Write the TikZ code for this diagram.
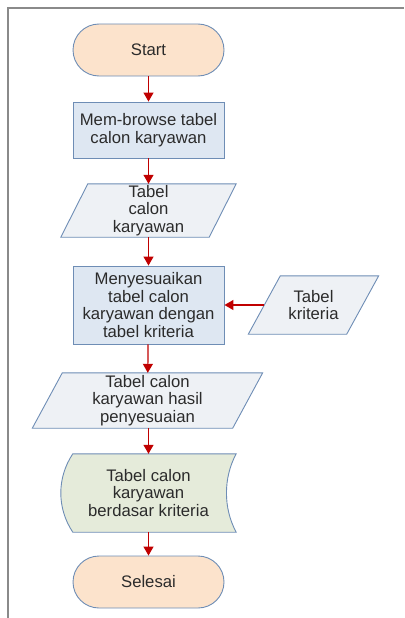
\documentclass[tikz,border=0pt]{standalone}
\usepackage{fontspec}
\setmainfont{Liberation Sans}
\usetikzlibrary{arrows.meta,calc}
\pgfdeclarelayer{background}
\pgfsetlayers{background,main}

\definecolor{termfill}{HTML}{FCE3CC}
\definecolor{procfill}{HTML}{DEE7F2}
\definecolor{iofill}{HTML}{EEF1F5}
\definecolor{storefill}{HTML}{E5EBDA}
\definecolor{edgeblue}{HTML}{6E8DB5}
\definecolor{flowred}{HTML}{C00000}
\definecolor{txtgray}{HTML}{2B2B2B}
\definecolor{framegray}{HTML}{8A8A8A}

\tikzset{
  box/.style={align=center, inner sep=0pt, text=txtgray,
    font=\fontsize{16.7}{17.5}\selectfont},
  terminal/.style={box, draw=edgeblue, line width=0.9pt, fill=termfill,
    rounded corners=26pt, minimum width=151pt, minimum height=52pt},
  process/.style={box, draw=edgeblue, line width=0.9pt, fill=procfill,
    minimum width=151pt},
  iotext/.style={box},
  ioshape/.style={draw=edgeblue, line width=0.9pt, fill=iofill},
  storeshape/.style={draw=edgeblue, line width=0.9pt, fill=storefill},
  flow/.style={draw=flowred, line width=1.2pt,
    -{Triangle[length=9pt,width=10pt]}},
  frameline/.style={draw=framegray, line width=1.8pt}
}

\begin{document}
\begin{tikzpicture}[x=1pt,y=-1pt]
\useasboundingbox (0,0) rectangle (404,618);

% page frame (top and left rules)
\draw[frameline] (8,618) -- (8,8) -- (404,8);

% nodes
\node[terminal] (start) at (148.5,50) {Start};
\node[process, minimum height=56pt] (browse) at (148.5,130)
  {Mem-browse tabel\\calon karyawan};
\node[iotext, minimum width=148pt, minimum height=53pt] (tcalon) at (148.5,210.5)
  {Tabel\\calon\\karyawan};
\node[process, minimum height=78pt] (sesuai) at (148.5,305)
  {Menyesuaikan\\tabel calon\\karyawan dengan\\tabel kriteria};
\node[iotext, minimum width=98pt, minimum height=58pt] (kriteria) at (313.5,305)
  {Tabel\\kriteria};
\node[iotext, minimum width=200pt, minimum height=55pt] (hasil) at (147.5,400.5)
  {Tabel calon\\karyawan hasil\\penyesuaian};
\node[iotext, minimum width=175pt, minimum height=78pt] (simpan) at (148.5,493)
  {Tabel calon\\karyawan\\berdasar kriteria};
\node[terminal] (selesai) at (148.5,582) {Selesai};

% data shapes drawn behind their texts
\begin{pgfonlayer}{background}
  % parallelograms (input / output data)
  \draw[ioshape] ($(tcalon.north west)+(13.5,0)$) -- ($(tcalon.north east)+(13.5,0)$)
    -- ($(tcalon.south east)+(-13.5,0)$) -- ($(tcalon.south west)+(-13.5,0)$) -- cycle;
  \draw[ioshape] ($(kriteria.north west)+(16,0)$) -- ($(kriteria.north east)+(16,0)$)
    -- ($(kriteria.south east)+(-16,0)$) -- ($(kriteria.south west)+(-16,0)$) -- cycle;
  \draw[ioshape] ($(hasil.north west)+(15,0)$) -- ($(hasil.north east)+(15,0)$)
    -- ($(hasil.south east)+(-15,0)$) -- ($(hasil.south west)+(-15,0)$) -- cycle;
  % stored data
  \draw[storeshape] ($(simpan.north west)+(12,0)$) -- (simpan.north east)
    .. controls ($(simpan.north east)+(-13,24)$) and ($(simpan.south east)+(-13,-24)$)
    .. (simpan.south east)
    -- ($(simpan.south west)+(12,0)$)
    .. controls ($(simpan.south west)+(-4,-24)$) and ($(simpan.north west)+(-4,24)$)
    .. ($(simpan.north west)+(12,0)$) -- cycle;
\end{pgfonlayer}

% connectors
\draw[flow] (start) -- (browse);
\draw[flow] (browse) -- (tcalon);
\draw[flow] (tcalon) -- (sesuai);
\draw[flow] (kriteria.west) -- (sesuai.east);
\draw[flow] (sesuai) -- (hasil);
\draw[flow] (hasil.south -| sesuai.south) -- (simpan.north -| sesuai.south);
\draw[flow] (simpan.south -| sesuai.south) -- (selesai);
\end{tikzpicture}
\end{document}
